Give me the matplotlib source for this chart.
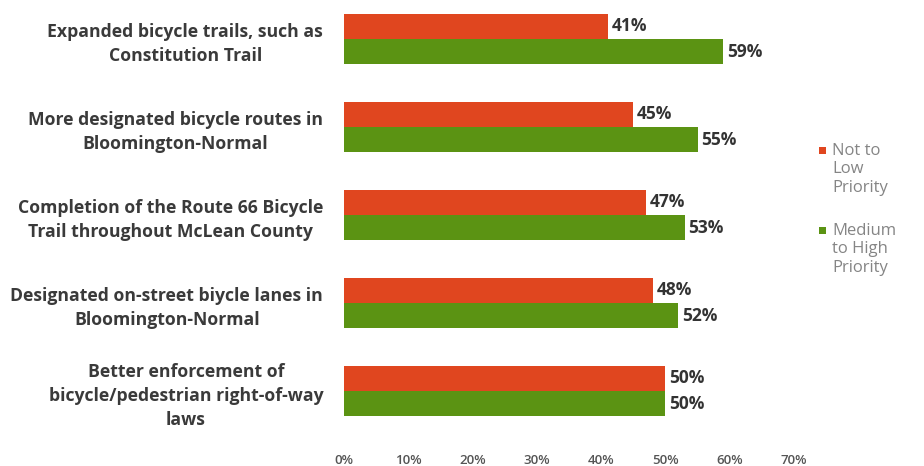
import matplotlib.pyplot as plt
from matplotlib.patches import Rectangle
import numpy as np

plt.rcParams['font.family'] = ['Open Sans', 'DejaVu Sans']

categories = [
    "Expanded bicycle trails, such as\nConstitution Trail",
    "More designated bicycle routes in\nBloomington-Normal",
    "Completion of the Route 66 Bicycle\nTrail throughout McLean County",
    "Designated on-street biycle lanes in\nBloomington-Normal",
    "Better enforcement of\nbicycle/pedestrian right-of-way\nlaws",
]
not_low = [41, 45, 47, 48, 50]
medium_high = [59, 55, 53, 52, 50]
series_names = ["Not to\nLow\nPriority", "Medium\nto High\nPriority"]
xticks = [0, 10, 20, 30, 40, 50, 60, 70]

red = "#e0461f"
green = "#5b9313"
W, H = 924, 466

fig = plt.figure(figsize=(W / 100, H / 100), dpi=100)
ax = fig.add_axes([0.3723, 0.0558, 0.487, 0.9442])

y = np.arange(len(categories))
h = 0.285
ax.barh(y - h / 2, not_low, height=h, color=red)
ax.barh(y + h / 2, medium_high, height=h, color=green)

for yi, a, b in zip(y, not_low, medium_high):
    ax.text(a + 0.6, yi - h / 2, f"{a}%", va="center", ha="left",
            fontsize=12.5, fontweight="bold", color="#333333")
    ax.text(b + 0.6, yi + h / 2, f"{b}%", va="center", ha="left",
            fontsize=12.5, fontweight="bold", color="#333333")

ax.set_xlim(0, 70)
ax.set_ylim(4.557, -0.443)
ax.set_xticks(xticks)
ax.set_xticklabels([f"{t}%" for t in xticks], fontsize=9.5, color="#555555",
                   fontweight="semibold")
ax.set_yticks(y)
ax.set_yticklabels(categories, fontsize=12.7, fontweight="bold",
                   color="#3a3a3a", multialignment="center", linespacing=1.45)
ax.tick_params(axis="both", length=0)
ax.tick_params(axis="y", pad=15)
ax.tick_params(axis="x", pad=10)
for s in ax.spines.values():
    s.set_visible(False)

# legend drawn by hand so the swatch sits on the first text line
legend_rows = [(red, 143), (green, 223)]
for (col, top), name in zip(legend_rows, series_names):
    fig.add_artist(Rectangle((819 / W, 1 - (top + 11) / H), 7 / W, 7 / H,
                             transform=fig.transFigure, color=col, lw=0))
    fig.text(832 / W, 1 - top / H, name, va="top", ha="left", fontsize=12,
             color="#858585", linespacing=1.2)

fig.savefig("out.png", dpi=100, facecolor="white")
